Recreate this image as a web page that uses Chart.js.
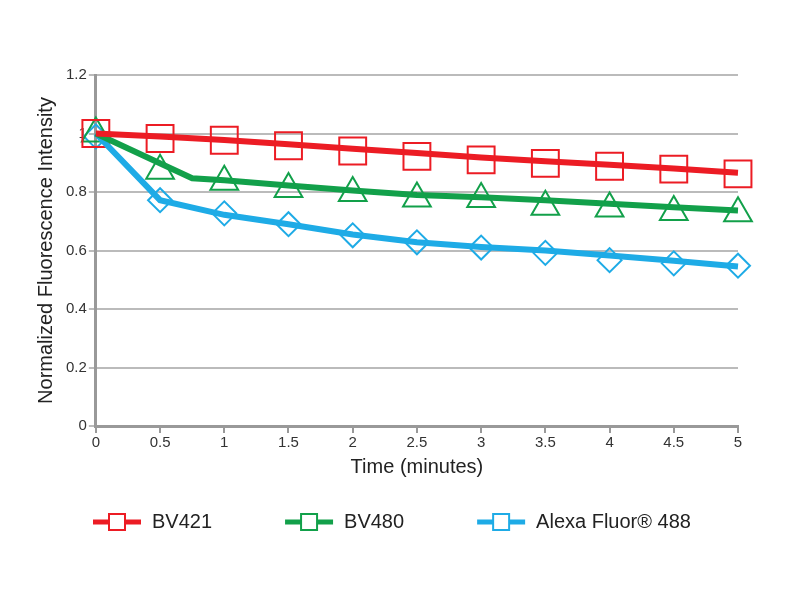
<!DOCTYPE html>
<html lang="en">
<head>
    <meta charset="UTF-8">
    <title>Photostability</title>
    <script src="https://cdn.jsdelivr.net/npm/chart.js"></script>
    <style>
        html, body { margin: 0; padding: 0; background: #fff; }
        #wrap { width: 800px; height: 600px; }
    </style>
</head>
<body>
<div id="wrap"><canvas id="fluoChart" width="800" height="600"></canvas></div>
<script>
    // marker positions (minutes)
    const times = [0, 0.5, 1, 1.5, 2, 2.5, 3, 3.5, 4, 4.5, 5];

    // markers
    const bv421Markers = [1.0, 0.983, 0.977, 0.958, 0.94, 0.922, 0.91, 0.898, 0.888, 0.878, 0.862];
    const bv480Markers = [1.0, 0.873, 0.835, 0.81, 0.797, 0.778, 0.776, 0.75, 0.744, 0.732, 0.727];
    const alexaMarkers = [0.99, 0.772, 0.727, 0.69, 0.652, 0.628, 0.61, 0.592, 0.567, 0.556, 0.548];

    // the thick lines (drawn slightly apart from the markers in the original)
    const bv421LineX = [0, 0.5, 1, 1.5, 2, 2.5, 3, 3.5, 4, 4.5, 5];
    const bv421LineY = [1.0, 0.99, 0.978, 0.963, 0.948, 0.933, 0.918, 0.905, 0.893, 0.88, 0.866];
    const bv480LineX = [0, 0.75, 1, 1.5, 2, 2.5, 3, 3.5, 4, 4.5, 5];
    const bv480LineY = [1.0, 0.847, 0.84, 0.822, 0.805, 0.79, 0.782, 0.772, 0.76, 0.748, 0.737];
    const alexaLineX = [0, 0.5, 1, 1.5, 2, 2.5, 3, 3.5, 4, 4.5, 5];
    const alexaLineY = [1.0, 0.772, 0.722, 0.69, 0.655, 0.628, 0.612, 0.6, 0.583, 0.565, 0.545];

    const seriesNames = ["BV421", "BV480", "Alexa Fluor® 488"];
    const colors = ["#ec1c24", "#12a04a", "#1eabe6"];

    const FONT = "'Liberation Sans', Arial, sans-serif";
    const GAP = 62; // blank space before each legend symbol

    function pts(xs, ys) {
        return xs.map((x, i) => ({ x: x, y: ys[i] }));
    }

    // legend symbol : line with an open square (blank area on the left = gap between items)
    function legendIcon(color) {
        const c = document.createElement("canvas");
        c.width = GAP + 50; c.height = 22;
        const ctx = c.getContext("2d");
        ctx.strokeStyle = color;
        ctx.lineWidth = 5;
        ctx.beginPath();
        ctx.moveTo(GAP + 1, 11); ctx.lineTo(GAP + 49, 11);
        ctx.stroke();
        ctx.fillStyle = "#fff";
        ctx.fillRect(GAP + 17, 3, 16, 16);
        ctx.lineWidth = 2;
        ctx.strokeRect(GAP + 17, 3, 16, 16);
        return c;
    }
    const icons = colors.map(legendIcon);

    function lineSet(i, xs, ys) {
        return {
            label: seriesNames[i],
            data: pts(xs, ys),
            borderColor: colors[i],
            backgroundColor: colors[i],
            borderWidth: 6,
            pointRadius: 0,
            fill: false,
            tension: 0,
            clip: false,
            order: 1
        };
    }

    function markerSet(i, ys, style, radius) {
        return {
            label: seriesNames[i] + " markers",
            data: pts(times, ys),
            showLine: false,
            borderColor: colors[i],
            backgroundColor: "rgba(0,0,0,0)",
            pointStyle: style,
            pointRadius: radius,
            pointBorderWidth: 2,
            clip: false,
            order: 2
        };
    }

    const fmt = (v) => String(+v.toFixed(1));

    new Chart(document.getElementById("fluoChart"), {
        type: "line",
        data: {
            datasets: [
                lineSet(0, bv421LineX, bv421LineY),
                lineSet(1, bv480LineX, bv480LineY),
                lineSet(2, alexaLineX, alexaLineY),
                markerSet(0, bv421Markers, "rect", 19),
                markerSet(1, bv480Markers, "triangle", 16),
                markerSet(2, alexaMarkers, "rectRot", 12)
            ]
        },
        options: {
            responsive: false,
            animation: false,
            layout: { padding: { left: 20, right: 62, top: 75, bottom: 58 } },
            plugins: {
                tooltip: { enabled: false },
                legend: {
                    position: "bottom",
                    align: "start",
                    labels: {
                        usePointStyle: true,
                        pointStyleWidth: GAP + 50,
                        padding: 10,
                        color: "#222",
                        font: { family: FONT, size: 20 },
                        filter: (item) => item.datasetIndex < 3,
                        generateLabels: (chart) => {
                            const items = Chart.defaults.plugins.legend.labels.generateLabels(chart);
                            items.forEach(it => {
                                if (it.datasetIndex < 3) it.pointStyle = icons[it.datasetIndex];
                            });
                            return items;
                        }
                    }
                }
            },
            scales: {
                x: {
                    type: "linear",
                    min: 0,
                    max: 5,
                    ticks: {
                        stepSize: 0.5,
                        color: "#333",
                        font: { family: FONT, size: 15 },
                        padding: 1,
                        callback: fmt
                    },
                    grid: { drawOnChartArea: false, drawTicks: true, tickLength: 7, color: "#999", lineWidth: 2 },
                    border: { color: "#999", width: 3 },
                    title: {
                        display: true,
                        text: "Time (minutes)",
                        color: "#222",
                        font: { family: FONT, size: 20 },
                        padding: { top: 2, bottom: 23 }
                    }
                },
                y: {
                    min: 0,
                    max: 1.2,
                    ticks: {
                        stepSize: 0.2,
                        color: "#333",
                        font: { family: FONT, size: 15 },
                        padding: 2,
                        callback: fmt
                    },
                    grid: { color: "#bbb", lineWidth: 2, tickLength: 7 },
                    border: { color: "#999", width: 3 },
                    title: {
                        display: true,
                        text: "Normalized Fluorescence Intensity",
                        color: "#222",
                        font: { family: FONT, size: 20 },
                        padding: { top: 14, bottom: 6 }
                    }
                }
            }
        }
    });
</script>
</body>
</html>
